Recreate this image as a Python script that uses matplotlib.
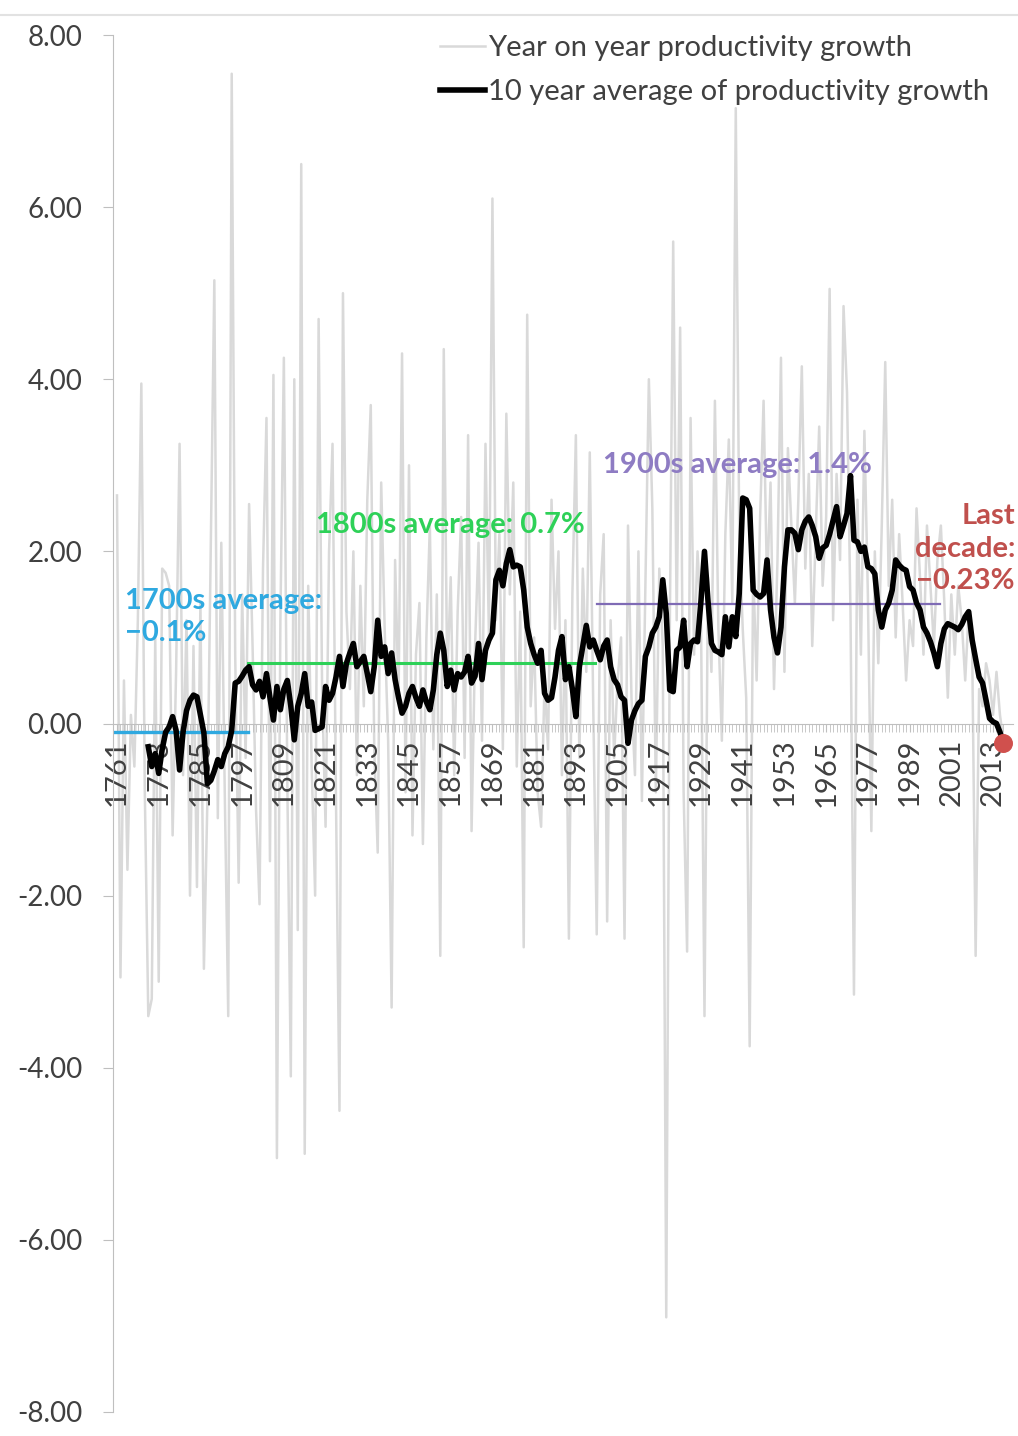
import numpy as np
import matplotlib
matplotlib.use('Agg')
import matplotlib.pyplot as plt
from matplotlib.lines import Line2D

plt.rcParams['font.family'] = ['Lato', 'DejaVu Sans']

# year on year productivity growth, 1761-2016
years = np.arange(1761, 2017)
yoy_growth = [
    2.65, -2.95, 0.5, -1.7, 0.1, -0.5, 1.2, 3.95, -0.8, -3.4,
    -3.2, 1.0, -3.0, 1.8, 1.75, 1.6, -1.3, 0.6, 3.25, -0.6,
    1.2, -2.0, 0.9, -1.9, 1.4, -2.85, -0.9, 2.1, 5.15, -1.1,
    2.1, -0.8, -3.4, 7.55, 0.8, -1.85, 1.5, -0.4, 2.55, 0.9,
    -1.0, -2.1, 1.8, 3.55, -1.6, 4.05, -5.05, 1.2, 4.25, -0.7,
    -4.1, 4.0, -2.4, 6.5, -5.0, 1.6, -0.5, -2.0, 4.7, 0.4,
    -1.2, 2.0, 3.25, -0.9, -4.5, 5.0, 1.3, 0.4, 2.0, -0.6,
    1.6, 0.2, 2.6, 3.7, -0.3, -1.5, 2.8, 1.1, -0.2, -3.3,
    1.9, 0.3, 4.3, -0.8, 3.0, -1.3, 0.8, 1.4, -1.4, 1.0,
    2.3, -0.3, 1.5, -2.7, 4.35, 0.5, 1.7, -0.6, 1.3, 2.4,
    -0.4, 3.35, -1.25, 0.9, 2.1, -0.2, 3.25, 1.0, 6.1, 1.2,
    2.2, -0.3, 3.6, 1.5, 2.8, -0.5, 1.3, -2.6, 4.75, 0.2,
    1.0, -0.8, -1.2, 0.5, -0.3, 2.6, 1.1, 2.0, -0.6, 1.2,
    -2.5, 1.5, 3.35, -0.4, 1.8, 0.6, 3.15, 0.2, -2.45, 1.5,
    2.2, -2.3, 1.2, -0.4, 0.5, 1.0, -2.5, 2.3, 0.3, -0.6,
    2.0, -0.9, 1.6, 4.0, 2.5, -0.8, 1.8, 0.9, -6.9, 1.0,
    5.6, 1.2, 4.6, -0.8, -2.65, 3.55, 0.8, 2.0, 1.2, -3.4,
    1.7, 0.6, 3.75, 1.1, -0.2, 2.2, 3.3, 1.4, 7.15, 2.2,
    1.1, 0.3, -3.75, 1.8, 0.5, 2.4, 3.75, 1.6, 2.8, 0.4,
    1.9, 4.25, 0.6, 3.2, 2.3, 1.4, 2.6, 4.15, 1.8, 2.9,
    0.9, 2.2, 3.45, 1.6, 2.4, 5.05, 1.2, 2.9, 1.9, 4.85,
    3.85, 1.3, -3.15, 2.6, 0.8, 3.4, 1.5, -1.25, 2.0, 0.7,
    2.3, 4.2, 1.6, 2.6, 1.0, 2.2, 1.4, 0.5, 1.2, 0.9,
    2.5, 1.7, 0.8, 2.3, 1.6, 0.9, 1.9, 2.3, 1.4, 0.3,
    1.5, 0.8, 1.6, 1.2, 0.5, 1.3, 0.9, -2.7, 0.4, 0.2,
    0.7, 0.5, 0.1, 0.6, 0.1, -0.2,
]

# 10 year average, 1770-2016
avg_years = np.arange(1770, 2017)
avg_growth = [
    -0.27, -0.50, -0.35, -0.58, -0.30, -0.10, -0.04, 0.08, -0.08, -0.54,
    -0.10, 0.15, 0.27, 0.33, 0.31, 0.10, -0.11, -0.70, -0.66, -0.55,
    -0.42, -0.50, -0.35, -0.27, -0.08, 0.47, 0.49, 0.55, 0.62, 0.66,
    0.45, 0.39, 0.49, 0.31, 0.58, 0.30, 0.04, 0.43, 0.16, 0.40,
    0.50, 0.20, -0.19, 0.20, 0.35, 0.58, 0.20, 0.25, -0.08, -0.06,
    -0.04, 0.43, 0.27, 0.35, 0.54, 0.78, 0.43, 0.70, 0.82, 0.93,
    0.66, 0.72, 0.78, 0.58, 0.37, 0.66, 1.20, 0.78, 0.89, 0.58,
    0.82, 0.51, 0.30, 0.12, 0.20, 0.35, 0.43, 0.30, 0.20, 0.39,
    0.25, 0.16, 0.39, 0.80, 1.05, 0.85, 0.43, 0.62, 0.39, 0.58,
    0.54, 0.60, 0.78, 0.47, 0.55, 0.93, 0.51, 0.85, 0.97, 1.05,
    1.67, 1.78, 1.60, 1.86, 2.02, 1.82, 1.84, 1.82, 1.55, 1.12,
    0.93, 0.80, 0.70, 0.85, 0.35, 0.27, 0.30, 0.54, 0.85, 1.01,
    0.51, 0.66, 0.40, 0.08, 0.66, 0.90, 1.14, 0.89, 0.97, 0.85,
    0.74, 0.90, 0.97, 0.66, 0.51, 0.45, 0.31, 0.27, -0.23, 0.04,
    0.15, 0.23, 0.27, 0.78, 0.89, 1.05, 1.12, 1.24, 1.67, 1.28,
    0.39, 0.37, 0.85, 0.89, 1.20, 0.66, 0.93, 0.97, 0.95, 1.43,
    2.00, 1.43, 0.93, 0.85, 0.83, 0.80, 1.24, 0.89, 1.24, 1.01,
    1.51, 2.62, 2.60, 2.50, 1.55, 1.50, 1.47, 1.51, 1.90, 1.32,
    1.00, 0.82, 1.12, 1.82, 2.25, 2.25, 2.21, 2.02, 2.25, 2.35,
    2.40, 2.30, 2.17, 1.92, 2.04, 2.07, 2.20, 2.36, 2.52, 2.17,
    2.30, 2.44, 2.88, 2.13, 2.11, 2.00, 2.05, 1.82, 1.80, 1.74,
    1.32, 1.12, 1.32, 1.40, 1.55, 1.90, 1.84, 1.80, 1.78, 1.59,
    1.55, 1.40, 1.32, 1.12, 1.05, 0.95, 0.82, 0.66, 0.93, 1.10,
    1.16, 1.14, 1.12, 1.09, 1.15, 1.24, 1.30, 0.97, 0.75, 0.54,
    0.47, 0.27, 0.06, 0.02, 0.00, -0.10, -0.23,
]

# century averages
period_start = [1759.9, 1798.7, 1899.0]
period_end = [1798.7, 1898.5, 1997.8]
period_avg = [-0.1, 0.7, 1.39]
period_colors = ['#2fa9e0', '#2ed158', '#7f6bb5']
period_lw = [2.4, 2.2, 1.6]

last_year = 2016
last_decade = -0.23

fig = plt.figure(figsize=(10.18, 14.36), dpi=100)
ax = fig.add_axes([113 / 1018, 1 - 1412 / 1436, 900 / 1018, 1377 / 1436])

ax.plot(years, yoy_growth, color='#d9d9d9', lw=1.8, zorder=1,
        label='Year on year productivity growth')
ax.plot(avg_years, avg_growth, color='black', lw=4.0, zorder=3,
        solid_joinstyle='round', label='10 year average of productivity growth')

for s, e, v, c, w in zip(period_start, period_end, period_avg, period_colors, period_lw):
    ax.plot([s, e], [v, v], color=c, lw=w, zorder=2)

ax.scatter([last_year], [last_decade], s=160, color='#d0504d', zorder=5, clip_on=False)

ax.set_xlim(1759.85, 2018.75)
ax.set_ylim(-8, 8)

for side in ['top', 'right']:
    ax.spines[side].set_visible(False)
ax.spines['left'].set_color('#bfbfbf')
ax.spines['bottom'].set_color('#bfbfbf')
ax.spines['bottom'].set_position(('data', 0))

yt = np.arange(-8, 9, 2)
ax.set_yticks(yt)
ax.set_yticklabels([f'{v:.2f}' for v in yt])
ax.tick_params(axis='y', direction='out', length=7, color='#bfbfbf',
               labelcolor='#404040', labelsize=20, pad=15)

xt = np.arange(1761, 2017, 12)
ax.set_xticks(xt)
ax.set_xticklabels([str(y) for y in xt], rotation=90)
ax.set_xticks(years, minor=True)
ax.tick_params(axis='x', which='both', direction='out', length=6, color='#bfbfbf',
               labelcolor='#404040', labelsize=21, pad=5)

# annotations
ax.text(1763.3, 1.24, '1700s average:\n\u22120.1%', color='#2fa9e0', fontsize=21,
        fontweight='bold', ha='left', va='center', linespacing=1.3)
ax.text(1818.2, 2.31, '1800s average: 0.7%', color='#2ed158', fontsize=21,
        fontweight='bold', ha='left', va='center')
ax.text(1900.8, 3.0, '1900s average: 1.4%', color='#8e7cc3', fontsize=21,
        fontweight='bold', ha='left', va='center')
ax.text(2019.3, 2.03, 'Last\ndecade:\n\u22120.23%', color='#c0504d', fontsize=21,
        fontweight='bold', ha='right', va='center', multialignment='right',
        linespacing=1.3)

fig.legend(loc='upper left', bbox_to_anchor=(440 / 1018, 1 - 35 / 1436),
           frameon=False, fontsize=21, handlelength=1.55, handletextpad=0.08,
           labelspacing=0.62, borderpad=0, borderaxespad=0, labelcolor='#404040')

fig.add_artist(Line2D([0, 1], [1 - 15 / 1436] * 2, color='#e2e2e2', lw=1.5,
                      transform=fig.transFigure))

fig.savefig('out.png', dpi=100)
